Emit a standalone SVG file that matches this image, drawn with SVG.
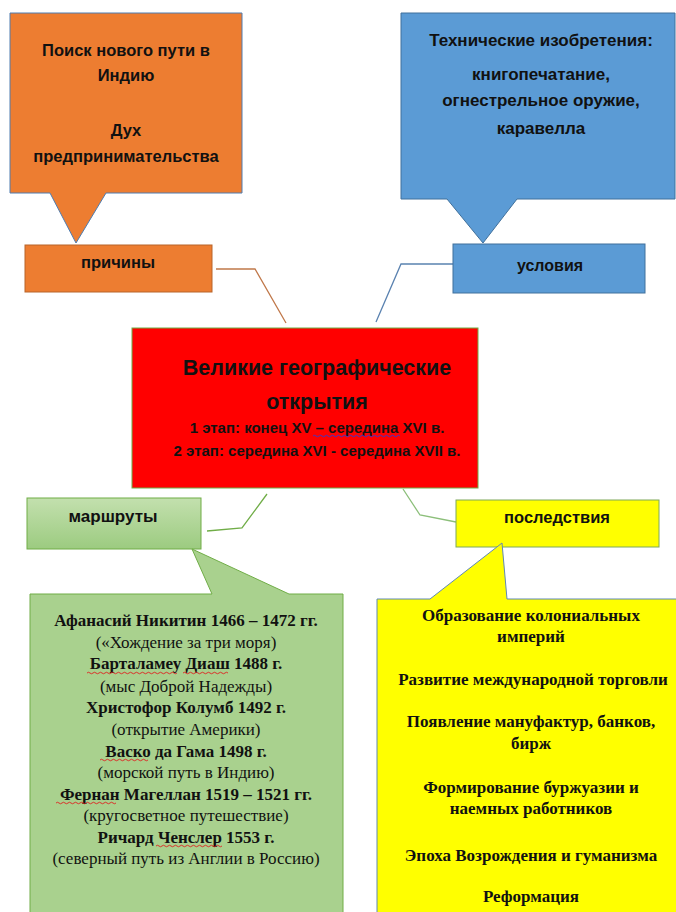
<svg xmlns="http://www.w3.org/2000/svg" width="676" height="912" viewBox="0 0 676 912">
<style>
.sans{font-family:"Liberation Sans","DejaVu Sans",sans-serif;font-weight:bold;fill:#111;text-anchor:middle}
.serif{font-family:"Liberation Serif","DejaVu Serif",serif;fill:#111;text-anchor:middle}
.b{font-weight:bold}
.conn{fill:none;stroke-width:1.3}
.wavy{fill:none;stroke:#e02020;stroke-width:0.9}
</style>
<defs>
<linearGradient id="gg" x1="0" y1="0" x2="0" y2="1">
<stop offset="0" stop-color="#c3e0ae"/>
<stop offset="1" stop-color="#9ccb80"/>
</linearGradient>
</defs>
<rect width="676" height="912" fill="#fff"/>

<g id="connectors">
<polyline class="conn" stroke="#c0784a" points="216,269 255,269 286,323"/>
<polyline class="conn" stroke="#5a82b0" points="453,264 401,264 376,322"/>
<polyline class="conn" stroke="#70ad47" points="207,531 242,528 267,494"/>
<polyline class="conn" stroke="#8cbf7a" points="456,522 420,515 403,489"/>
</g>

<g id="causes-callout">
<path d="M10,13 H242 V193 H106 L76,243 L50,193 H10 Z" fill="#ed7d31" stroke="#4f7db0" stroke-width="1"/>
<text class="sans" font-size="16.5" x="126" y="56">Поиск нового пути в</text>
<text class="sans" font-size="16.5" x="126" y="81">Индию</text>
<text class="sans" font-size="16.5" x="126" y="136">Дух</text>
<text class="sans" font-size="16.5" x="126" y="162">предпринимательства</text>
</g>

<g id="causes">
<rect x="25" y="245" width="187" height="47" fill="#ed7d31" stroke="#b8652a" stroke-width="1"/>
<text class="sans" font-size="16.5" x="118" y="268">причины</text>
</g>

<g id="conditions-callout">
<path d="M401,13 H675 V199 H517 L483,243 L447,199 H401 Z" fill="#5b9bd5" stroke="#41719c" stroke-width="1"/>
<text class="sans" font-size="17" x="541" y="46">Технические изобретения:</text>
<text class="sans" font-size="17" x="541" y="80">книгопечатание,</text>
<text class="sans" font-size="17" x="541" y="106">огнестрельное оружие,</text>
<text class="sans" font-size="17" x="541" y="134">каравелла</text>
</g>

<g id="conditions">
<rect x="453" y="244" width="192" height="49" fill="#5b9bd5" stroke="#41719c" stroke-width="1"/>
<text class="sans" font-size="16" x="550" y="271">условия</text>
</g>

<g id="main">
<rect x="132" y="328" width="346" height="160" fill="#ff0000" stroke="#70ad47" stroke-width="1"/>
<text class="sans" font-size="21.5" x="317" y="375">Великие географические</text>
<text class="sans" font-size="21.5" x="317" y="409">открытия</text>
<text class="sans" font-size="15" x="317" y="433">1 этап: конец XV –  середина XVI в.</text>
<text class="sans" font-size="15" x="317" y="456">2 этап: середина XVI - середина XVII в.</text>
<path d="M313,436 q1.5,-1.5 3,0 t3,0 t3,0 t3,0 t3,0 t3,0 t3,0 t3,0 t3,0 t3,0 t3,0 t3,0 t3,0 t3,0 t3,0 t3,0 t3,0 t3,0 t3,0 t3,0 t3,0 t3,0 t3,0 t3,0 t3,0 t3,0 t3,0 t3,0 t3,0" fill="none" stroke="#2a3ad8" stroke-width="0.9"/>
</g>

<g id="routes">
<rect x="27" y="498" width="174" height="51" fill="url(#gg)" stroke="#70ad47" stroke-width="1"/>
<text class="sans" font-size="17" x="113" y="522">маршруты</text>
</g>

<g id="routes-callout">
<path d="M30,594 H212 L192,549 L289,594 H343 V915 H30 Z" fill="#a9d18e" stroke="#70ad47" stroke-width="1"/>
<text class="serif b" font-size="17" x="186" y="626">Афанасий Никитин 1466 – 1472 гг.</text>
<text class="serif" font-size="17" x="186" y="648">(«Хождение за три моря)</text>
<text class="serif b" font-size="17" x="186" y="669">Барталамеу Диаш 1488 г.</text>
<text class="serif" font-size="17" x="186" y="692">(мыс Доброй Надежды)</text>
<text class="serif b" font-size="17" x="186" y="713">Христофор Колумб 1492 г.</text>
<text class="serif" font-size="17" x="186" y="735">(открытие Америки)</text>
<text class="serif b" font-size="17" x="186" y="757">Васко да Гама 1498 г.</text>
<text class="serif" font-size="17" x="186" y="778">(морской путь в Индию)</text>
<text class="serif b" font-size="17" x="186" y="800">Фернан Магеллан 1519 – 1521 гг.</text>
<text class="serif" font-size="17" x="186" y="821">(кругосветное путешествие)</text>
<text class="serif b" font-size="17" x="186" y="843">Ричард Ченслер 1553 г.</text>
<text class="serif" font-size="17" x="186" y="864">(северный путь из Англии в Россию)</text>
<path class="wavy" d="M87,673 q1.5,-1.5 3,0 t3,0 t3,0 t3,0 t3,0 t3,0 t3,0 t3,0 t3,0 t3,0 t3,0 t3,0 t3,0 t3,0 t3,0 t3,0 t3,0 t3,0 t3,0 t3,0 t3,0 t3,0 t3,0 t3,0 t3,0 t3,0 t3,0 t3,0 t3,0 t3,0"/>
<path class="wavy" d="M183,673 q1.5,-1.5 3,0 t3,0 t3,0 t3,0 t3,0 t3,0 t3,0 t3,0 t3,0 t3,0 t3,0 t3,0 t3,0 t3,0 t3,0"/>
<path class="wavy" d="M100,760 q1.5,-1.5 3,0 t3,0 t3,0 t3,0 t3,0 t3,0 t3,0 t3,0 t3,0 t3,0 t3,0 t3,0 t3,0 t3,0 t3,0 t3,0"/>
<path class="wavy" d="M56,803 q1.5,-1.5 3,0 t3,0 t3,0 t3,0 t3,0 t3,0 t3,0 t3,0 t3,0 t3,0 t3,0 t3,0 t3,0 t3,0 t3,0 t3,0 t3,0 t3,0 t3,0 t3,0"/>
<path class="wavy" d="M156,846 q1.5,-1.5 3,0 t3,0 t3,0 t3,0 t3,0 t3,0 t3,0 t3,0 t3,0 t3,0 t3,0 t3,0 t3,0 t3,0 t3,0 t3,0 t3,0 t3,0 t3,0 t3,0 t3,0 t3,0"/>
</g>

<g id="consequences">
<rect x="456" y="500" width="203" height="47" fill="#ffff00" stroke="#7fa85a" stroke-width="1"/>
<text class="sans" font-size="16.5" x="557" y="523">последствия</text>
</g>

<g id="consequences-callout">
<path d="M377,599 H430 L502,543 L507,599 H677 V915 H377 Z" fill="#ffff00" stroke="#5f88b5" stroke-width="1"/>
<text class="serif b" font-size="17" x="531" y="621">Образование колониальных</text>
<text class="serif b" font-size="17" x="531" y="642">империй</text>
<text class="serif b" font-size="17" x="533" y="685">Развитие международной торговли</text>
<text class="serif b" font-size="17" x="531" y="727">Появление мануфактур, банков,</text>
<text class="serif b" font-size="17" x="531" y="749">бирж</text>
<text class="serif b" font-size="17" x="531" y="793">Формирование буржуазии и</text>
<text class="serif b" font-size="17" x="531" y="814">наемных работников</text>
<text class="serif b" font-size="17" x="531" y="861">Эпоха Возрождения и гуманизма</text>
<text class="serif b" font-size="17" x="531" y="902">Реформация</text>
</g>
</svg>
